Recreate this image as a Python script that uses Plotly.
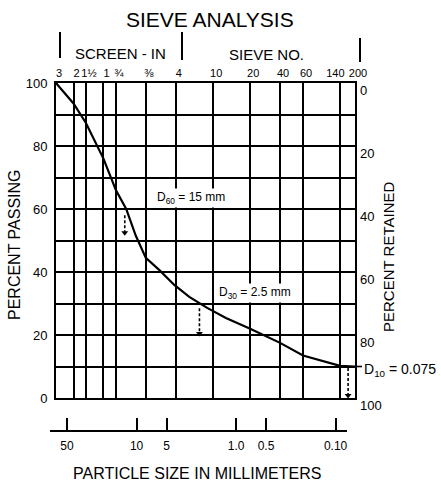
import math
import plotly.graph_objects as go

# ---------------- data ----------------
sieve_sizes_mm = [76.2, 50.8, 38.1, 25.4, 19.05, 9.525, 4.75, 2.0, 0.85, 0.425, 0.25, 0.106, 0.075]
sieve_labels = ["3", "2", "1½", "1", "¾", "⅜", "4", "10", "20", "40", "60",
                "140\u00a0\u00a0\u00a0\u00a0\u00a0", "200"]

curve_size_mm = [76.2, 50.8, 38.1, 25.4, 19.05, 15.0, 12.0, 9.525, 6.95, 4.92, 3.48, 2.3,
                 1.49, 0.85, 0.425, 0.25, 0.106, 0.09, 0.075]
curve_passing = [100, 93.5, 87.3, 76, 66, 60, 51.5, 44.5, 40.6, 35.9, 32.1, 28.6,
                 25.4, 22, 17.5, 13.5, 10.2, 10, 10]

bottom_tick_vals = [50, 10, 5, 1.0, 0.5, 0.10]
bottom_tick_text = ["50", "10", "5", "1.0", "0.5", "0.10"]

pass_ticks = [0, 10, 20, 30, 40, 50, 60, 70, 80, 90, 100]
retained_ticks = [0, 20, 40, 60, 80, 100]

# D-value arrows: (size mm, top %, bottom %)
d60 = (15.5, 58.0, 52.5)
d30 = (2.75, 28.5, 20.5)
d10 = (0.088, 9.5, 0.8)

# ---------------- layout helpers ----------------
W, H = 441, 487
L, R, T, B = 50, 355, 83, 430          # plot area in pixels
Y0PIX = 398                             # pixel of 0 % passing
FONT = "Liberation Sans"


def px(x):
    return (x - L) / (R - L)


def py(y):
    return (B - y) / (B - T)


ydom0 = py(Y0PIX)

fig = go.Figure()

# main curve
fig.add_trace(go.Scatter(x=curve_size_mm, y=curve_passing, mode="lines",
                         line=dict(color="black", width=2.2), hoverinfo="skip",
                         showlegend=False))

# dashed arrows
for (sx, ytop, ybot) in (d60, d30, d10):
    fig.add_trace(go.Scatter(x=[sx, sx], y=[ytop, ybot], mode="lines",
                             line=dict(color="black", width=1.6, dash="3px,2px"),
                             hoverinfo="skip", showlegend=False))
    fig.add_trace(go.Scatter(x=[sx], y=[ybot], mode="markers",
                             marker=dict(symbol="triangle-down", size=6, color="black"),
                             cliponaxis=False, hoverinfo="skip", showlegend=False))

# invisible traces to instantiate secondary axes
fig.add_trace(go.Scatter(x=curve_size_mm, y=[100 - v for v in curve_passing], yaxis="y2",
                         mode="lines", line=dict(width=0), opacity=0,
                         hoverinfo="skip", showlegend=False))
fig.add_trace(go.Scatter(x=bottom_tick_vals, y=[0.5] * len(bottom_tick_vals),
                         xaxis="x2", yaxis="y3",
                         mode="markers", marker=dict(opacity=0), hoverinfo="skip",
                         showlegend=False))

xr = [math.log10(sieve_sizes_mm[0]), math.log10(sieve_sizes_mm[-1])]

fig.update_layout(
    width=W, height=H,
    margin=dict(l=L, r=W - R, t=T, b=H - B, pad=0),
    paper_bgcolor="white", plot_bgcolor="rgba(0,0,0,0)",
    font=dict(family=FONT, color="black", size=12),
    xaxis=dict(type="log", range=xr, autorange=False, domain=[px(56), 1],
               side="top", anchor="y", tickangle=0, ticklabelshift=-3,
               tickmode="array", tickvals=sieve_sizes_mm, ticktext=sieve_labels,
               tickfont=dict(size=11, family=FONT), ticks="", ticklen=0,
               showgrid=True, gridcolor="black", gridwidth=1.6,
               showline=True, linecolor="black", linewidth=2, mirror=True,
               zeroline=False, fixedrange=True),
    xaxis2=dict(type="log", range=[1.870, -1.115], autorange=False,
                domain=[0, px(347)], anchor="y3", side="bottom", tickangle=0,
                tickmode="array", tickvals=bottom_tick_vals, ticktext=bottom_tick_text,
                tickfont=dict(size=12, family=FONT), ticklabelstandoff=4,
                ticks="inside", ticklen=12, tickwidth=1.6, tickcolor="black",
                showgrid=False, showline=True, linecolor="black", linewidth=1.6,
                zeroline=False, fixedrange=True),
    yaxis=dict(range=[0, 100], autorange=False, domain=[ydom0, 1], anchor="x",
               tickmode="array", tickvals=pass_ticks,
               ticktext=[str(v) if v % 20 == 0 else "" for v in pass_ticks],
               tickfont=dict(size=13, family=FONT), ticks="", ticklabelstandoff=4,
               showgrid=True, gridcolor="black", gridwidth=1.6,
               showline=True, linecolor="black", linewidth=2, mirror=True,
               zeroline=False, fixedrange=True),
    yaxis2=dict(range=[100, 0], autorange=False, overlaying="y", side="right",
                anchor="x", domain=[ydom0, 1], ticklabelshift=-7, ticklabelstandoff=4,
                tickmode="array", tickvals=retained_ticks,
                ticktext=[str(v) for v in retained_ticks],
                tickfont=dict(size=13, family=FONT), ticks="",
                showgrid=False, showline=False, zeroline=False, fixedrange=True),
    yaxis3=dict(range=[0, 1], domain=[0, ydom0 * 0.5], anchor="x2", visible=False,
                showgrid=False, zeroline=False, fixedrange=True),
)

ann = []


def text(x, y, s, size, xanchor="center", **kw):
    d = dict(xref="paper", yref="paper", x=px(x), y=py(y), text=s, showarrow=False,
             xanchor=xanchor, yanchor="middle",
             font=dict(size=size, family=FONT, color="black"))
    d.update(kw)
    ann.append(d)


text(210, 20, "SIEVE ANALYSIS", 21)
text(120, 53, "SCREEN - IN", 15)
text(266, 55, "SIEVE NO.", 15)
text(14, 245, "PERCENT PASSING", 16, textangle=-90)
text(388, 257, "PERCENT RETAINED", 15, textangle=-90)
text(197, 473, "PARTICLE SIZE IN MILLIMETERS", 16)
text(155, 198, "D<sub>60</sub> = 15 mm", 12, xanchor="left", bgcolor="white", borderpad=1)
text(217, 293, "D<sub>30</sub> = 2.5 mm", 12, xanchor="left", bgcolor="white", borderpad=1)
text(362, 370, "D<sub>10</sub> = 0.075", 14, xanchor="left")
fig.update_layout(annotations=ann)

shapes = []
for (bx, y0, y1) in ((60, 32, 58), (182, 32, 60), (360, 38, 62)):
    shapes.append(dict(type="line", xref="paper", yref="paper",
                       x0=px(bx), x1=px(bx), y0=py(y0), y1=py(y1),
                       line=dict(color="black", width=2)))
# D10 leader line beyond the right frame
shapes.append(dict(type="line", xref="paper", yref="y", x0=px(355), x1=px(362),
                   y0=10, y1=10, line=dict(color="black", width=1.6)))
fig.update_layout(shapes=shapes)

fig.write_html("out.html")
